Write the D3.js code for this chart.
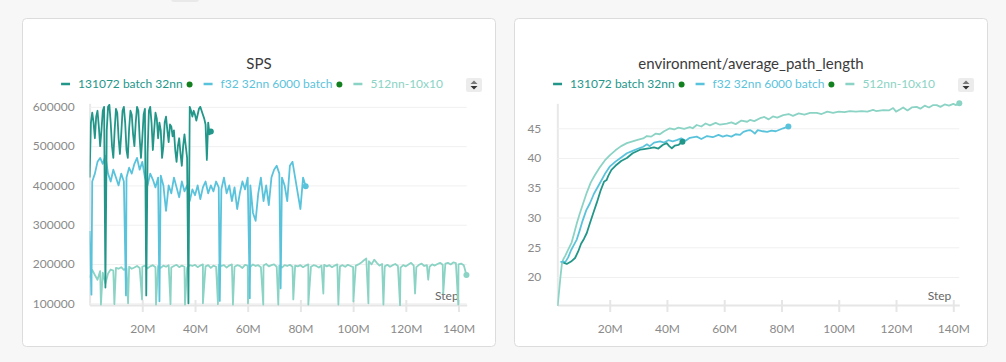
<!DOCTYPE html>
<html>
<head>
<meta charset="utf-8">
<script src="https://cdn.jsdelivr.net/npm/d3@7"></script>
<style>
body { margin: 0; background: #f7f7f7; }
svg { display: block; font-family: Lato, "Noto Sans", sans-serif; }
</style>
</head>
<body>
<svg width="1006" height="362"></svg>
<script>
// run names / colours
var seriesNames = ["131072 batch 32nn", "f32 32nn 6000 batch", "512nn-10x10"]
var seriesColors = ["#23968a", "#5ac3dc", "#8bd3c4"]
var seriesDots = [true, true, false]

// ticks (steps in millions, SPS in thousands)
var xTicks = [20, 40, 60, 80, 100, 120, 140]
var spsTicks = [100, 200, 300, 400, 500, 600]
var pathTicks = [20, 25, 30, 35, 40, 45]

// SPS, 131072 batch 32nn, one value every 0.5M steps
var spsStepA = 0.5
var spsA = [420, 560, 585, 560, 520, 575, 590, 550, 500, 540,
  590, 600, 140, 540, 600, 605, 560, 500, 470, 540,
  595, 585, 520, 480, 530, 590, 600, 560, 490, 470,
  545, 590, 580, 530, 500, 560, 600, 590, 520, 470,
  520, 580, 595, 120, 480, 590, 600, 560, 490, 540,
  585, 570, 520, 560, 540, 470, 500, 560, 575, 540,
  510, 555, 550, 525, 540, 490, 460, 500, 520, 480,
  450, 500, 530, 500, 470, 100, 600, 590, 575, 590,
  580, 565, 580, 595, 600, 590, 580, 570, 555, 465,
  560, 530, 537]

// SPS, f32 32nn 6000 batch, every 1M steps + the short drops
var spsStepB = 1
var spsB = [284, 410, 430, 460, 470, 455, 475, 430, 410, 440,
  420, 400, 430, 410, 420, 445, 430, 455, 470, 440,
  460, 420, 400, 430, 415, 395, 420, 425, 400, 335,
  400, 380, 420, 395, 370, 410, 385, 400, 360, 390,
  375, 400, 365, 395, 410, 380, 400, 385, 410, 395,
  390, 420, 380, 400, 360, 395, 340, 380, 410, 390,
  420, 400, 330, 310, 380, 420, 360, 400, 350, 420,
  440, 450, 430, 420, 400, 360, 450, 460, 420, 380,
  340, 420, 398]
var spsDropsB = [[0.7, 122], [13.8, 120], [26.5, 105], [49.4, 106], [60.8, 113], [72.5, 138]]

// SPS, 512nn-10x10, every 1M steps + the short drops
var spsStepC = 1
var spsC = [165, 185, 172, 160, 182, 178, 150, 176, 186, 183,
  190, 188, 192, 185, 190, 193, 188, 191, 195, 190,
  193, 196, 189, 194, 197, 192, 195, 190, 196, 193,
  197, 191, 195, 198, 192, 196, 193, 190, 197, 195,
  198, 192, 196, 199, 194, 197, 190, 196, 193, 198,
  195, 197, 191, 196, 199, 193, 197, 195, 190, 198,
  196, 193, 199, 195, 197, 192, 196, 200, 194, 197,
  199, 193, 196, 191, 197, 195, 198, 193, 196, 194,
  197, 192, 196, 199, 193, 197, 195, 191, 196, 198,
  194, 197, 192, 196, 199, 194, 197, 193, 198, 195,
  192, 196, 199, 203, 209, 214, 207, 199, 211, 203,
  196, 200, 194, 198, 193, 197, 200, 195, 191, 197,
  194, 199, 203, 196, 192, 198, 201, 195, 197, 193,
  199, 196, 200, 203, 198, 201, 203, 199, 204, 202,
  199, 201, 197, 172]
var spsDropsC = [[4.3, 97], [9.4, 98], [14.6, 100], [19.9, 110], [25.2, 97], [30.7, 98],
  [36.2, 97], [43.0, 100], [48.7, 98], [54.4, 97], [60.1, 100], [65.9, 97], [71.6, 97],
  [77.3, 110], [83.0, 97], [88.7, 125], [94.4, 97], [100.1, 105], [105.8, 100],
  [111.5, 97], [117.8, 95], [123.5, 125], [128.5, 160], [134.2, 125], [139.9, 97]]

// environment/average_path_length, [step M, value]
var pathA = [[3.8, 22.4], [5, 22.2], [6.5, 22.6], [7.9, 23.2], [9, 24.3], [10, 25.6], [11, 26.4],
  [12, 27.4], [13, 28.9], [14.3, 30.8], [15.5, 32.5], [16.8, 34.5], [18, 36.0], [18.9, 36.3],
  [19.5, 37.0], [20.6, 38.0], [22, 38.7], [24, 39.5], [26, 40.0], [28, 40.8], [30.6, 41.4],
  [32, 41.5], [34.1, 41.65], [35.5, 41.8], [37, 41.6], [38.5, 42.2], [39.9, 42.5], [40.8, 42.0],
  [41.7, 41.65], [42.8, 42.1], [44, 42.2], [45.4, 42.75]]
var pathB = [[2.8, 22.5], [3.5, 22.6], [4.5, 22.5], [5.5, 23.3], [6.5, 24.5], [7.5, 25.4], [8.5, 26.3],
  [9.5, 27.8], [10.5, 29.4], [11.8, 31.2], [13.1, 32.4], [14.5, 34.0], [16.6, 35.8], [18.3, 37.3],
  [20.1, 38.6], [22, 39.4], [24, 40.1], [26, 40.8], [28, 41.2], [30, 41.6], [31.7, 41.9], [33, 42.3],
  [34, 42.0], [35.5, 42.6], [37.6, 42.8], [39, 42.6], [40.5, 43.0], [42, 42.8], [43.4, 43.0],
  [45, 43.3], [46.5, 42.9], [48, 43.4], [50.4, 43.6], [52, 43.2], [54, 43.7], [56, 43.5], [58, 43.9],
  [59.5, 43.6], [60.9, 43.8], [62.5, 43.6], [64, 44.0], [65.5, 43.9], [66.7, 44.4], [68, 44.6],
  [69, 44.7], [70, 44.4], [70.7, 44.1], [71.7, 44.7], [73.5, 44.5], [75, 44.4], [76.5, 44.6],
  [78, 44.5], [80.6, 45.0], [82.4, 45.3]]
var pathC = [[1.8, 15.1], [2.3, 17.5], [2.8, 20.0], [3.3, 22.2], [3.8, 23.0], [4.5, 23.6], [5.5, 24.6],
  [6.7, 25.8], [7.5, 27.2], [8.5, 29.0], [9.5, 30.6], [10.8, 32.5], [12, 34.2], [13.4, 35.9],
  [14.9, 37.2], [16.5, 38.4], [18.3, 39.6], [20.1, 40.5], [22, 41.3], [24, 42.0], [26, 42.5],
  [28, 42.8], [30, 43.1], [31.7, 43.3], [33, 43.7], [34.5, 43.6], [36, 44.1], [37.5, 44.0],
  [39, 44.5], [41, 45.0], [42.5, 44.8], [44, 45.1], [46, 44.9], [48, 45.2], [49, 45.0], [50.4, 45.55],
  [52, 45.3], [53.5, 45.8], [55, 45.5], [57, 45.9], [58.5, 45.6], [60.9, 45.8], [62.5, 46.0],
  [64, 45.7], [66, 46.3], [68, 46.1], [69, 46.4], [70.5, 46.2], [72.5, 46.7], [74, 46.9],
  [75.5, 46.5], [77, 47.0], [78.5, 46.8], [80.6, 47.2], [82.5, 47.4], [84, 47.1], [86, 47.5],
  [88, 47.3], [90, 47.6], [92.3, 47.6], [94, 47.4], [96, 47.8], [98, 47.6], [100, 47.8],
  [102, 47.7], [103.9, 47.9], [106, 47.8], [108, 47.9], [110, 47.8], [112, 48.1], [113, 47.9],
  [115.6, 48.06], [117.5, 48.0], [119, 48.4], [120, 47.8], [121.5, 48.2], [122.5, 48.5],
  [124, 48.0], [125.5, 48.5], [127.2, 48.6], [128.5, 48.3], [130, 48.8], [131.5, 48.5],
  [133, 48.9], [134.2, 48.9], [135.5, 48.6], [137, 49.0], [138.5, 48.8], [140, 49.1],
  [141, 48.9], [142.1, 49.2]]


// turn a regular value list (+ drops) into [step, value] points
var toPoints = function(values, stepSize, drops) {
  var pts = values.map(function(v, i) { return [i * stepSize, v] })
  if (drops) pts = pts.concat(drops)
  pts.sort(function(a, b) { return a[0] - b[0] })
  return pts
}

var svg = d3.select("svg")

// little tab at the top edge
svg.append("rect").attr("x", 171).attr("y", -12).attr("width", 28).attr("height", 14)
  .attr("rx", 3).attr("fill", "#e9e9e9")

var drawPanel = function(cfg) {
  var g = svg.append("g")

  g.append("rect")
    .attr("x", cfg.left + 0.5).attr("y", 18.5)
    .attr("width", 473).attr("height", 328).attr("rx", 4)
    .attr("fill", "white").attr("stroke", "#dcdcdc")

  var cx = cfg.left + 237

  g.append("text").attr("x", cx).attr("y", 69)
    .attr("text-anchor", "middle").attr("font-size", 15).attr("fill", "#3b3b3b")
    .text(cfg.title)

  // legend
  var leg = g.append("g")
  var pos = 0
  seriesNames.forEach(function(name, i) {
    leg.append("line").attr("x1", pos).attr("x2", pos + 9).attr("y1", 84).attr("y2", 84)
      .attr("stroke", seriesColors[i]).attr("stroke-width", 2.5)
    var t = leg.append("text").attr("x", pos + 17).attr("y", 88)
      .attr("font-size", 12).attr("fill", seriesColors[i]).text(name)
    var w = t.node().getComputedTextLength()
    pos = pos + 17 + w
    if (seriesDots[i]) {
      leg.append("circle").attr("cx", pos + 7).attr("cy", 84.5).attr("r", 3).attr("fill", "#12801e")
      pos = pos + 21
    }
  })
  leg.attr("transform", "translate(" + (cx - 7 - pos / 2) + ",0)")

  // expand button
  var bx = cfg.left + 444
  g.append("rect").attr("x", bx).attr("y", 78).attr("width", 16).attr("height", 14).attr("rx", 2)
    .attr("fill", "#ececec")
  g.append("path").attr("d", "M" + (bx + 4.5) + ",84 L" + (bx + 8) + ",80.5 L" + (bx + 11.5) + ",84 Z")
    .attr("fill", "#777")
  g.append("path").attr("d", "M" + (bx + 4.5) + ",86 L" + (bx + 8) + ",89.5 L" + (bx + 11.5) + ",86 Z")
    .attr("fill", "#333")

  var x = d3.scaleLinear().domain(cfg.xDomain).range(cfg.xRange)
  var y = d3.scaleLinear().domain(cfg.yDomain).range([305, 103.3])
  var w = cfg.xRange[1] - cfg.xRange[0]

  // y axis + grid
  var ya = g.append("g").attr("transform", "translate(" + cfg.xRange[0] + ",0)")
    .call(d3.axisLeft(y).tickValues(cfg.yTicks).tickFormat(cfg.yFormat)
      .tickSize(-w).tickSizeOuter(0).tickPadding(cfg.yPad))
  ya.select(".domain").attr("stroke", "#e8e8e8").attr("stroke-width", 2)
  ya.selectAll(".tick line").attr("stroke", "#f0f0f0")
  ya.selectAll(".tick text").attr("fill", "#8a8a8a").attr("font-size", 12)
    .attr("font-family", "Lato, 'Noto Sans', sans-serif")

  // x axis
  var xa = g.append("g").attr("transform", "translate(0,305)")
    .call(d3.axisBottom(x).tickValues(xTicks).tickFormat(function(d) { return d + "M" })
      .tickSize(7).tickSizeOuter(0).tickPadding(12))
  xa.select(".domain").attr("stroke", "#e6e6e6").attr("stroke-width", 2)
  xa.selectAll(".tick line").attr("y1", -5).attr("stroke", "#e6e6e6").attr("stroke-width", 2)
  xa.selectAll(".tick text").attr("fill", "#8a8a8a").attr("font-size", 12)
    .attr("font-family", "Lato, 'Noto Sans', sans-serif")

  g.append("text").attr("x", cfg.xRange[1] - 8).attr("y", 300)
    .attr("text-anchor", "end").attr("font-size", 12).attr("fill", "#666").text("Step")

  var clipId = "clip" + cfg.left
  g.append("clipPath").attr("id", clipId).append("rect")
    .attr("x", cfg.xRange[0]).attr("y", 101).attr("width", w + 2).attr("height", 205)

  var line = d3.line().x(function(d) { return x(d[0]) }).y(function(d) { return y(d[1]) })

  // last run first so the first run sits on top
  for (var i = cfg.series.length - 1; i >= 0; i--) {
    var pts = cfg.series[i]
    g.append("path").datum(pts).attr("d", line)
      .attr("fill", "none").attr("stroke", seriesColors[i]).attr("stroke-width", cfg.lineWidth)
      .attr("stroke-linejoin", "round").attr("clip-path", "url(#" + clipId + ")")
    var last = pts[pts.length - 1]
    g.append("circle").attr("cx", x(last[0])).attr("cy", y(last[1])).attr("r", 3)
      .attr("fill", seriesColors[i])
  }
}

drawPanel({
  left: 22,
  title: "SPS",
  xDomain: [0, 143.1],
  xRange: [89.6, 466.7],
  yDomain: [95.7, 609],
  yTicks: spsTicks,
  yFormat: function(d) { return d + "000" },
  yPad: 15,
  lineWidth: 1.8,
  series: [toPoints(spsA, spsStepA), toPoints(spsB, spsStepB, spsDropsB), toPoints(spsC, spsStepC, spsDropsC)]
})

drawPanel({
  left: 514,
  title: "environment/average_path_length",
  xDomain: [1.7, 142.1],
  xRange: [557.3, 959.3],
  yDomain: [15.3, 49.2],
  yTicks: pathTicks,
  yFormat: function(d) { return d },
  yPad: 16,
  lineWidth: 1.8,
  series: [pathA, pathB, pathC]
})
</script>
</body>
</html>
